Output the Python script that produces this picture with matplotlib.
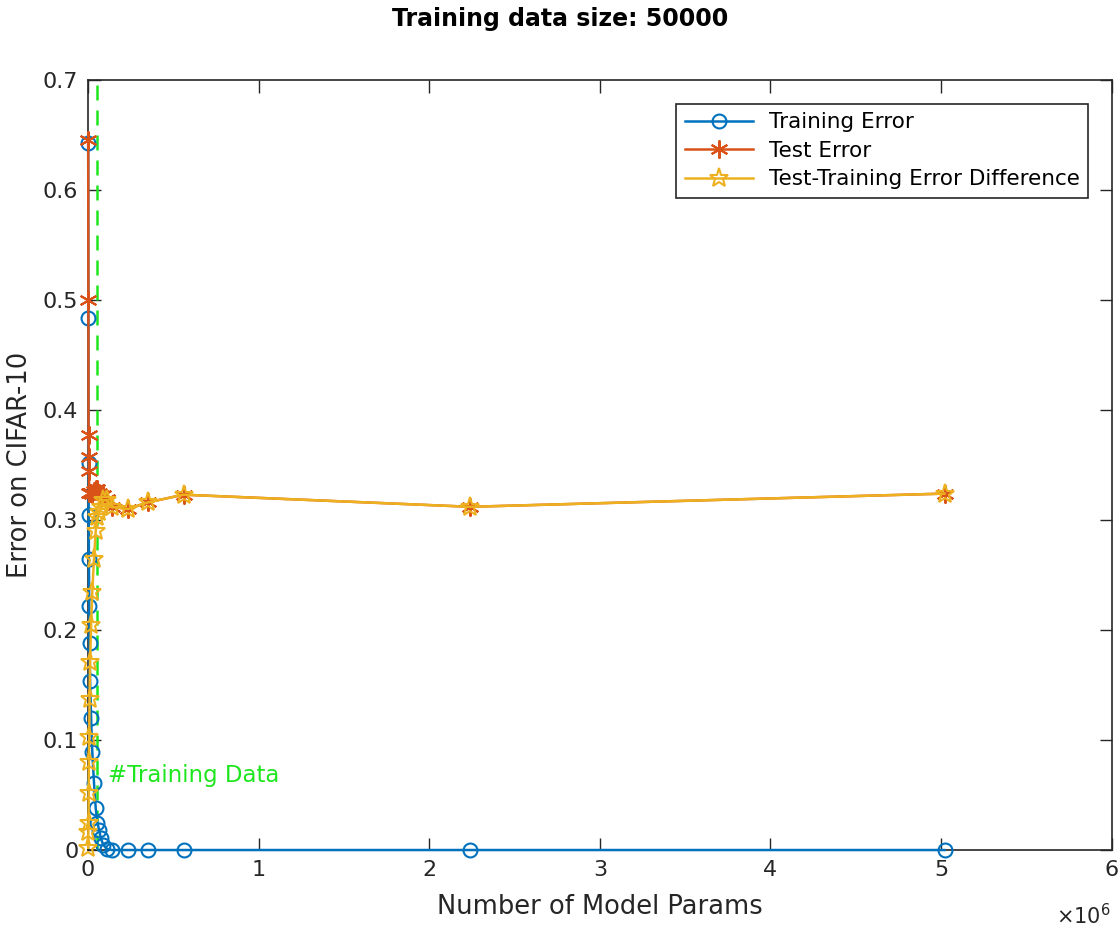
import matplotlib.pyplot as plt
from matplotlib.ticker import FuncFormatter

# number of model params
params = [1000, 2000, 3000, 4000, 5000, 7000, 9000, 12000, 18000, 25000,
          35000, 45000, 55000, 65000, 75000, 88000, 110000, 140000,
          235000, 350000, 560000, 2240000, 5020000]
train_err = [0.643, 0.484, 0.352, 0.305, 0.265, 0.222, 0.188, 0.154, 0.120, 0.089,
             0.061, 0.038, 0.025, 0.018, 0.011, 0.005, 0.001, 0.0,
             0.0, 0.0, 0.0, 0.0, 0.0]
test_err = [0.645, 0.500, 0.377, 0.357, 0.345, 0.325, 0.325, 0.325, 0.325, 0.324,
            0.326, 0.328, 0.328, 0.325, 0.323, 0.323, 0.319, 0.312,
            0.310, 0.316, 0.323, 0.312, 0.324]
diff_err = [0.002, 0.016, 0.025, 0.052, 0.080, 0.103, 0.137, 0.171, 0.205, 0.235,
            0.265, 0.290, 0.303, 0.307, 0.312, 0.318, 0.318, 0.312,
            0.310, 0.316, 0.323, 0.312, 0.324]
n_train = 50000

blue = '#0072BD'
orange = '#D95319'
yellow = '#EDB120'
green = '#1EE61E'
dark = '#262626'

fig = plt.figure(figsize=(11.2, 9.3), dpi=100)
ax = fig.add_axes([0.0786, 0.086, 0.914, 0.828])

ax.plot(params, train_err, '-', color=blue, lw=1.8, marker='o', ms=10,
        mfc='none', mew=1.5, label='Training Error', clip_on=False, zorder=3)
ax.plot(params, test_err, '-', color=orange, lw=1.8, marker=(6, 2, 0), ms=13,
        mew=1.5, label='Test Error', clip_on=False, zorder=3)
ax.plot(params, diff_err, '-', color=yellow, lw=1.8, marker='*', ms=14,
        mfc='none', mew=1.5, label='Test-Training Error Difference',
        clip_on=False, zorder=3)

# vertical line at the training set size
ax.plot([n_train, n_train], [0, 0.7], '--', color=green, lw=1.8, dashes=(6, 4))
ax.text(117000, 0.068, '#Training Data', color=green, fontsize=16.5, va='center')

ax.set_xlim(0, 6e6)
ax.set_ylim(0, 0.7)
ax.set_xticks(range(0, 7000000, 1000000))
ax.set_yticks([0, 0.1, 0.2, 0.3, 0.4, 0.5, 0.6, 0.7])
ax.xaxis.set_major_formatter(FuncFormatter(lambda v, p: '%g' % (v / 1e6)))
ax.yaxis.set_major_formatter(FuncFormatter(lambda v, p: '%g' % round(v, 2)))
fig.text(0.992, 0.016, r'$\times10^6$', fontsize=15, color=dark,
         ha='right', va='center')

ax.tick_params(direction='in', top=True, right=True, length=9, width=1,
               labelsize=16, colors=dark, pad=7)
for s in ax.spines.values():
    s.set_linewidth(1.2)
    s.set_color(dark)
    s.set_zorder(1)

ax.set_xlabel('Number of Model Params', fontsize=18.5, color=dark, labelpad=10)
ax.set_ylabel('Error on CIFAR-10', fontsize=18.5, color=dark)
ax.yaxis.set_label_coords(-0.054, 0.5)
fig.suptitle('Training data size: 50000', fontsize=17, fontweight='bold', y=0.993)

leg = ax.legend(loc='upper right', fontsize=15.5, fancybox=False, framealpha=1,
                edgecolor=dark, handlelength=3.2, handletextpad=0.7,
                borderaxespad=1.1, labelspacing=0.4)
leg.get_frame().set_linewidth(1.2)

fig.savefig('out.png', dpi=100)
